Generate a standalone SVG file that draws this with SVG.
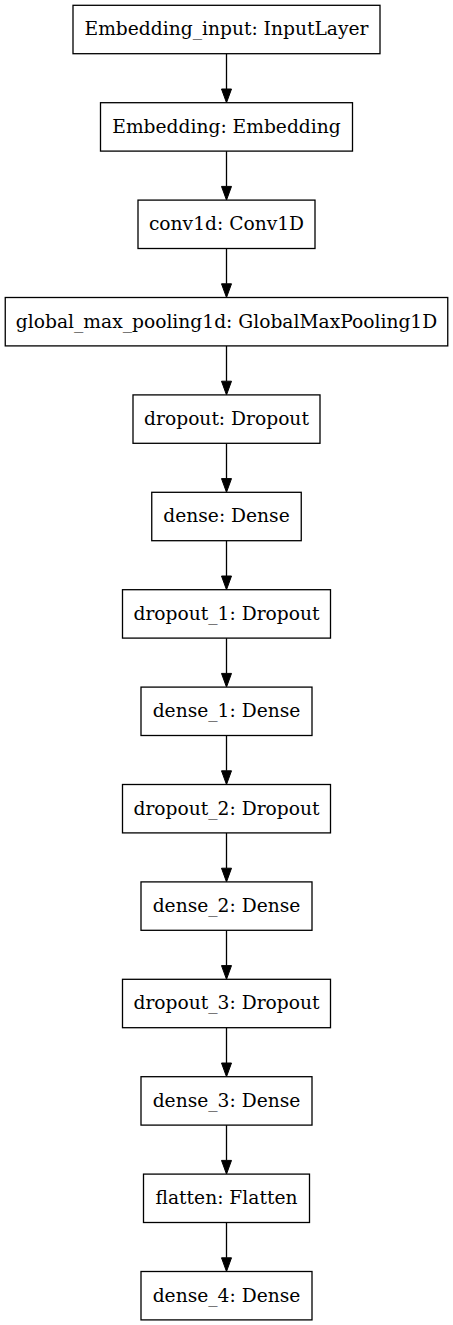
<svg xmlns="http://www.w3.org/2000/svg" width="453" height="1325" viewBox="0 0 453 1325">
<style>
.box{fill:#fff;stroke:#000;stroke-width:1.3}
.lbl{font-family:"DejaVu Serif",serif;font-size:18.67px;fill:#000;text-anchor:middle}
.edge{stroke:#000;stroke-width:1.3;fill:none}
.head{fill:#000;stroke:#000;stroke-width:1}
</style>
<rect width="453" height="1325" fill="#fff"/>
<g id="connectors">
<line class="edge" x1="226.5" y1="53.7" x2="226.5" y2="89"/><polygon class="head" points="221.5,89 231.5,89 226.5,102.7"/>
<line class="edge" x1="226.5" y1="151.1" x2="226.5" y2="186.4"/><polygon class="head" points="221.5,186.4 231.5,186.4 226.5,200.1"/>
<line class="edge" x1="226.5" y1="248.5" x2="226.5" y2="283.8"/><polygon class="head" points="221.5,283.8 231.5,283.8 226.5,297.5"/>
<line class="edge" x1="226.5" y1="345.9" x2="226.5" y2="381.2"/><polygon class="head" points="221.5,381.2 231.5,381.2 226.5,394.9"/>
<line class="edge" x1="226.5" y1="443.3" x2="226.5" y2="478.6"/><polygon class="head" points="221.5,478.6 231.5,478.6 226.5,492.3"/>
<line class="edge" x1="226.5" y1="540.7" x2="226.5" y2="576"/><polygon class="head" points="221.5,576 231.5,576 226.5,589.7"/>
<line class="edge" x1="226.5" y1="638.1" x2="226.5" y2="673.4"/><polygon class="head" points="221.5,673.4 231.5,673.4 226.5,687.1"/>
<line class="edge" x1="226.5" y1="735.5" x2="226.5" y2="770.8"/><polygon class="head" points="221.5,770.8 231.5,770.8 226.5,784.5"/>
<line class="edge" x1="226.5" y1="832.9" x2="226.5" y2="868.2"/><polygon class="head" points="221.5,868.2 231.5,868.2 226.5,881.9"/>
<line class="edge" x1="226.5" y1="930.3" x2="226.5" y2="965.6"/><polygon class="head" points="221.5,965.6 231.5,965.6 226.5,979.3"/>
<line class="edge" x1="226.5" y1="1027.7" x2="226.5" y2="1063"/><polygon class="head" points="221.5,1063 231.5,1063 226.5,1076.7"/>
<line class="edge" x1="226.5" y1="1125.1" x2="226.5" y2="1160.4"/><polygon class="head" points="221.5,1160.4 231.5,1160.4 226.5,1174.1"/>
<line class="edge" x1="226.5" y1="1222.5" x2="226.5" y2="1257.8"/><polygon class="head" points="221.5,1257.8 231.5,1257.8 226.5,1271.5"/>
</g>
<g id="n0"><rect class="box" x="73" y="5.3" width="307" height="48.4"/><text class="lbl" x="226.5" y="35.3">Embedding_input: InputLayer</text></g>
<g id="n1"><rect class="box" x="100.5" y="102.7" width="252" height="48.4"/><text class="lbl" x="226.5" y="132.7">Embedding: Embedding</text></g>
<g id="n2"><rect class="box" x="138" y="200.1" width="177" height="48.4"/><text class="lbl" x="226.5" y="230.1">conv1d: Conv1D</text></g>
<g id="n3"><rect class="box" x="5.25" y="297.5" width="442.5" height="48.4"/><text class="lbl" x="226.5" y="327.5">global_max_pooling1d: GlobalMaxPooling1D</text></g>
<g id="n4"><rect class="box" x="133" y="394.9" width="187" height="48.4"/><text class="lbl" x="226.5" y="424.9">dropout: Dropout</text></g>
<g id="n5"><rect class="box" x="151.75" y="492.3" width="149.5" height="48.4"/><text class="lbl" x="226.5" y="522.3">dense: Dense</text></g>
<g id="n6"><rect class="box" x="122.5" y="589.7" width="208" height="48.4"/><text class="lbl" x="226.5" y="619.7">dropout_1: Dropout</text></g>
<g id="n7"><rect class="box" x="141" y="687.1" width="171" height="48.4"/><text class="lbl" x="226.5" y="717.1">dense_1: Dense</text></g>
<g id="n8"><rect class="box" x="122.5" y="784.5" width="208" height="48.4"/><text class="lbl" x="226.5" y="814.5">dropout_2: Dropout</text></g>
<g id="n9"><rect class="box" x="141" y="881.9" width="171" height="48.4"/><text class="lbl" x="226.5" y="911.9">dense_2: Dense</text></g>
<g id="n10"><rect class="box" x="122.5" y="979.3" width="208" height="48.4"/><text class="lbl" x="226.5" y="1009.3">dropout_3: Dropout</text></g>
<g id="n11"><rect class="box" x="141" y="1076.7" width="171" height="48.4"/><text class="lbl" x="226.5" y="1106.7">dense_3: Dense</text></g>
<g id="n12"><rect class="box" x="143.5" y="1174.1" width="166" height="48.4"/><text class="lbl" x="226.5" y="1204.1">flatten: Flatten</text></g>
<g id="n13"><rect class="box" x="141" y="1271.5" width="171" height="48.4"/><text class="lbl" x="226.5" y="1301.5">dense_4: Dense</text></g>
</svg>
